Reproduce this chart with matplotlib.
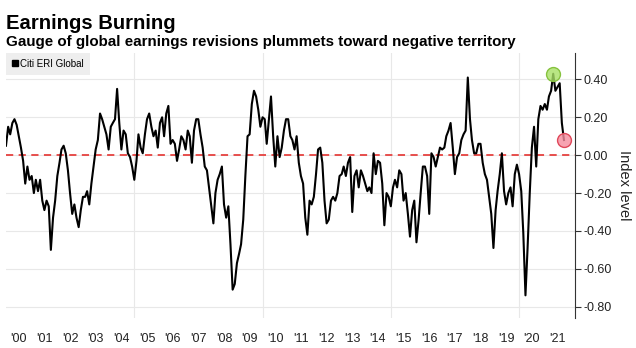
import numpy as np
import pandas as pd
import matplotlib.pyplot as plt
from matplotlib.lines import Line2D

plt.rcParams['font.family'] = ['Liberation Sans', 'DejaVu Sans']

# monthly readings of the Citi ERI Global index, Jan 2000 - Oct 2021
eri_2000_2005 = [
    0.05, 0.15, 0.11, 0.17, 0.19, 0.16, 0.10, 0.04, -0.03, -0.15, -0.06, -0.13,
    -0.11, -0.20, -0.13, -0.19, -0.13, -0.24, -0.29, -0.24, -0.27, -0.50, -0.33, -0.24,
    -0.11, -0.04, 0.03, 0.05, 0.01, -0.08, -0.20, -0.31, -0.26, -0.33, -0.38, -0.29,
    -0.22, -0.22, -0.19, -0.26, -0.15, -0.06, 0.03, 0.08, 0.22, 0.19, 0.15, 0.11,
    0.03, 0.15, 0.17, 0.19, 0.35, 0.17, 0.03, 0.13, 0.11, 0.01, -0.01, -0.06,
    -0.13, -0.03, 0.11, 0.04, 0.01, 0.11, 0.19, 0.22, 0.15, 0.10, 0.13, 0.04,
]
eri_2006_2011 = [
    0.17, 0.20, 0.10, 0.22, 0.26, 0.06, 0.08, 0.06, -0.03, 0.03, 0.10, 0.08,
    0.03, 0.13, 0.10, -0.04, 0.13, 0.19, 0.19, 0.11, 0.04, -0.06, -0.08, -0.17,
    -0.26, -0.36, -0.20, -0.13, -0.10, -0.06, -0.26, -0.33, -0.27, -0.47, -0.71, -0.68,
    -0.57, -0.52, -0.47, -0.34, -0.11, 0.10, 0.11, 0.27, 0.34, 0.31, 0.24, 0.15,
    0.20, 0.19, 0.06, 0.19, 0.31, 0.10, -0.06, 0.10, -0.01, 0.04, 0.13, 0.19,
    0.19, 0.10, 0.08, 0.03, 0.10, -0.04, -0.11, -0.15, -0.33, -0.42, -0.24, -0.26,
]
eri_2012_2017 = [
    -0.22, -0.10, 0.03, 0.04, -0.04, -0.24, -0.36, -0.34, -0.24, -0.22, -0.24, -0.20,
    -0.11, -0.10, -0.06, -0.11, -0.04, -0.01, -0.30, -0.11, -0.08, -0.17, -0.08, -0.11,
    -0.15, -0.19, -0.17, -0.20, 0.01, -0.10, -0.03, -0.04, -0.15, -0.37, -0.20, -0.22,
    -0.27, -0.17, -0.13, -0.17, -0.08, -0.10, -0.24, -0.20, -0.31, -0.43, -0.29, -0.24,
    -0.46, -0.34, -0.20, -0.06, -0.06, -0.11, -0.31, 0.01, -0.01, -0.06, -0.01, 0.04,
    0.03, 0.04, 0.10, 0.13, 0.17, 0.04, -0.10, -0.01, 0.01, 0.08, 0.11, 0.13,
]
eri_2018_2021 = [
    0.41, 0.19, 0.08, 0.01, 0.01, 0.06, 0.06, -0.04, -0.10, -0.13, -0.22, -0.31,
    -0.49, -0.29, -0.19, -0.10, 0.01, -0.19, -0.26, -0.20, -0.17, -0.27, -0.10, -0.05,
    -0.10, -0.19, -0.41, -0.74, -0.49, -0.20, 0.04, 0.15, -0.06, 0.19, 0.26, 0.24,
    0.27, 0.24, 0.31, 0.34, 0.43, 0.34, 0.36, 0.38, 0.17, 0.08,
]
eri = eri_2000_2005 + eri_2006_2011 + eri_2012_2017 + eri_2018_2021
dates = pd.date_range('2000-01-01', periods=len(eri), freq='MS')

years = list(range(2000, 2022))
year_labels = ["'%02d" % (y % 100) for y in years]
grid_years = [2005, 2010, 2015, 2020]
yticks = [0.4, 0.2, 0.0, -0.2, -0.4, -0.6, -0.8]

peak_idx = int(np.argmax(eri[-12:])) + len(eri) - 12
last_idx = len(eri) - 1

fig = plt.figure(figsize=(6.36, 3.48), dpi=100)
ax = fig.add_axes([0.0094, 0.086, 0.895, 0.762])

ax.plot(dates, eri, color='black', lw=1.5, zorder=3)
ax.axhline(0, color='#e5413f', lw=1.3, ls=(0, (4, 3)), zorder=2)

ax.plot(dates[peak_idx], eri[peak_idx], 'o', ms=10, mfc=(0.66, 0.88, 0.40, 0.8),
        mec='#86c23e', mew=1, zorder=4)
ax.plot(dates[last_idx], eri[last_idx], 'o', ms=10, mfc=(0.96, 0.55, 0.62, 0.8),
        mec='#e0485a', mew=1, zorder=4)

ax.set_xlim(pd.Timestamp('2000-01-01'), pd.Timestamp('2022-03-10'))
ax.set_ylim(-0.86, 0.54)

# y axis on the right
ax.yaxis.tick_right()
ax.yaxis.set_label_position('right')
ax.set_yticks(yticks)
ax.set_yticklabels(['%.2f' % t for t in yticks])
ax.tick_params(axis='y', length=4, width=0.8, color='#333333', labelsize=9,
               labelcolor='#222222', pad=2)
ax.set_ylabel('Index level', rotation=270, fontsize=10.5, labelpad=14, color='#222222')

# x axis: labels at mid-year, grid only at five-year marks
ax.set_xticks([pd.Timestamp('%d-01-01' % y) for y in grid_years])
ax.set_xticklabels([])
ax.set_xticks([pd.Timestamp('%d-07-01' % y) for y in years], minor=True)
ax.set_xticklabels(year_labels, minor=True)
ax.tick_params(axis='x', which='both', length=0, labelsize=9, labelcolor='#222222', pad=11)

ax.grid(True, which='major', color='#e8e8e8', lw=0.8, zorder=0)
ax.set_axisbelow(True)

for s in ['top', 'left', 'bottom']:
    ax.spines[s].set_visible(False)
ax.spines['right'].set_color('#333333')
ax.spines['right'].set_linewidth(0.8)

handle = Line2D([], [], marker='s', color='black', ls='none', ms=5)
leg = ax.legend([handle], ['Citi ERI Global'], loc='upper left', bbox_to_anchor=(0, 1),
                frameon=True, fancybox=False, facecolor='#eeeeee', edgecolor='none',
                framealpha=1, fontsize=7, handlelength=0.6, handletextpad=0.25,
                borderaxespad=0, borderpad=0.6)
leg.set_zorder(5)

fig.text(0.009, 0.918, 'Earnings Burning', fontsize=14.6, fontweight='bold', color='black')
fig.text(0.009, 0.868, 'Gauge of global earnings revisions plummets toward negative territory',
         fontsize=10.9, fontweight='bold', color='black')

fig.savefig('out.png', dpi=100)
